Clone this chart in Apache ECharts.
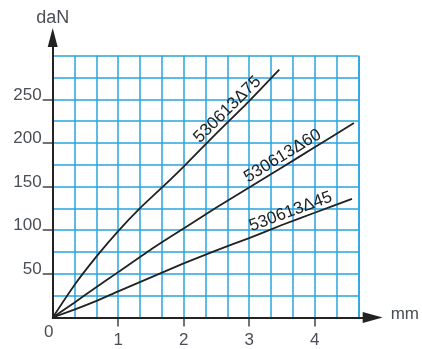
<!DOCTYPE html>
<html>
<head>
<meta charset="utf-8">
<script src="https://cdn.jsdelivr.net/npm/echarts@6.0.0/dist/echarts.min.js"></script>
<style>
html,body{margin:0;padding:0;background:#fff;}
#chart{width:422px;height:349px;}
</style>
</head>
<body>
<div id="chart"></div>
<script>
// displacement (mm) and load (daN)
var disp75 = [0, 0.33, 0.67, 1, 1.33, 1.67, 2, 2.5, 3, 3.46];
var load75 = [0, 37, 70, 99, 125, 149, 173, 211, 248, 284];
var disp60 = [0, 0.33, 0.67, 1, 1.5, 2, 2.5, 3, 3.5, 4, 4.6];
var load60 = [0, 17, 35, 52, 78, 102, 126, 149, 172, 195, 223];
var disp45 = [0, 0.33, 0.67, 1, 1.5, 2, 2.5, 3, 3.5, 4, 4.57];
var load45 = [0, 9, 19, 30, 46, 62, 77, 91, 106, 120, 136];
var names = ['530613Δ75', '530613Δ60', '530613Δ45'];
var xTicks = [1, 2, 3, 4];
var yTicks = [50, 100, 150, 200, 250];
// mm along each curve where its name is written
var labelAt = [2.76, 3.58, 3.68];

var FONT = '"Liberation Sans", Arial, sans-serif';
var GRAY = '#4a4f55';
var curves = [[disp75, load75], [disp60, load60], [disp45, load45]];

function pairs(xs, ys) {
    return xs.map(function (x, i) { return [x, ys[i]]; });
}

var chart = echarts.init(document.getElementById('chart'), null, {renderer: 'canvas'});

var plotBox = {left: 52.7, right: 63.7, top: 55.7, bottom: 31.5};
var hidden = {axisLine: {show: false}, axisTick: {show: false}, axisLabel: {show: false}, splitLine: {show: false}};

var option = {
    animation: false,
    backgroundColor: '#fff',
    grid: [
        plotBox,                                              // blue squares + curves
        {left: 52.7, right: 49, top: 37.5, bottom: 31.5},     // axes with arrows
        plotBox                                               // ticks + labels
    ],
    xAxis: [
        Object.assign({}, hidden, {
            type: 'value', gridIndex: 0, min: 0, max: 14 / 3, interval: 1 / 3,
            splitLine: {show: true, lineStyle: {color: '#27a4de', width: 1.5}}
        }),
        Object.assign({}, hidden, {
            type: 'value', gridIndex: 1, min: 0, max: 1, z: 5,
            name: 'mm', nameLocation: 'end', nameGap: 18,
            nameTextStyle: {color: GRAY, fontSize: 17, fontFamily: FONT, verticalAlign: 'bottom', lineHeight: 6},
            axisLine: {show: true, symbol: ['none', 'triangle'], symbolSize: [11, 20], lineStyle: {color: '#222', width: 2}}
        }),
        Object.assign({}, hidden, {
            type: 'value', gridIndex: 2, min: 0, max: 14 / 3,
            axisTick: {show: true, customValues: xTicks, length: 9, lineStyle: {color: '#444', width: 1.5}},
            axisLabel: {show: true, customValues: xTicks, margin: 14, color: GRAY, fontSize: 17, fontFamily: FONT}
        })
    ],
    yAxis: [
        Object.assign({}, hidden, {
            type: 'value', gridIndex: 0, min: 0, max: 300, interval: 25,
            splitLine: {show: true, lineStyle: {color: '#27a4de', width: 1.5}}
        }),
        Object.assign({}, hidden, {
            type: 'value', gridIndex: 1, min: 0, max: 1, z: 5,
            name: 'daN', nameLocation: 'end', nameGap: 10,
            nameTextStyle: {color: GRAY, fontSize: 18, fontFamily: FONT, align: 'center'},
            axisLine: {show: true, symbol: ['none', 'triangle'], symbolSize: [10, 19], lineStyle: {color: '#222', width: 2}}
        }),
        Object.assign({}, hidden, {
            type: 'value', gridIndex: 2, min: 0, max: 300,
            axisTick: {show: true, customValues: yTicks, length: 10, lineStyle: {color: '#444', width: 1.5}},
            axisLabel: {show: true, customValues: yTicks, margin: 11, color: GRAY, fontSize: 17, fontFamily: FONT,
                verticalAlign: 'bottom', lineHeight: 9}
        })
    ],
    series: curves.map(function (c, i) {
        return {
            name: names[i], type: 'line', xAxisIndex: 0, yAxisIndex: 0,
            data: pairs(c[0], c[1]), symbol: 'none', smooth: 0.2, z: 4,
            lineStyle: {color: '#222', width: 1.8}
        };
    })
};
chart.setOption(option);

// curve names written along each curve, plus the "0" at the origin
function valueAt(xs, ys, x) {
    for (var i = 1; i < xs.length; i++) {
        if (x <= xs[i]) {
            var t = (x - xs[i - 1]) / (xs[i] - xs[i - 1]);
            return {y: ys[i - 1] + t * (ys[i] - ys[i - 1]), k: i};
        }
    }
    return {y: ys[ys.length - 1], k: xs.length - 1};
}

var graphics = curves.map(function (c, i) {
    var v = valueAt(c[0], c[1], labelAt[i]);
    var p = chart.convertToPixel({gridIndex: 0}, [labelAt[i], v.y]);
    var a = chart.convertToPixel({gridIndex: 0}, [c[0][v.k - 1], c[1][v.k - 1]]);
    var b = chart.convertToPixel({gridIndex: 0}, [c[0][v.k], c[1][v.k]]);
    var ang = Math.atan2(a[1] - b[1], b[0] - a[0]);
    return {
        type: 'text', x: p[0], y: p[1] - 1, rotation: ang, z: 10,
        style: {text: names[i], fill: '#222', font: '17px ' + FONT, align: 'center', verticalAlign: 'bottom'}
    };
});
var o = chart.convertToPixel({gridIndex: 0}, [0, 0]);
graphics.push({
    type: 'text', x: o[0] - 4, y: o[1] + 15, z: 10,
    style: {text: '0', fill: GRAY, font: '17px ' + FONT, align: 'center', verticalAlign: 'middle'}
});
chart.setOption({graphic: graphics});
</script>
</body>
</html>
